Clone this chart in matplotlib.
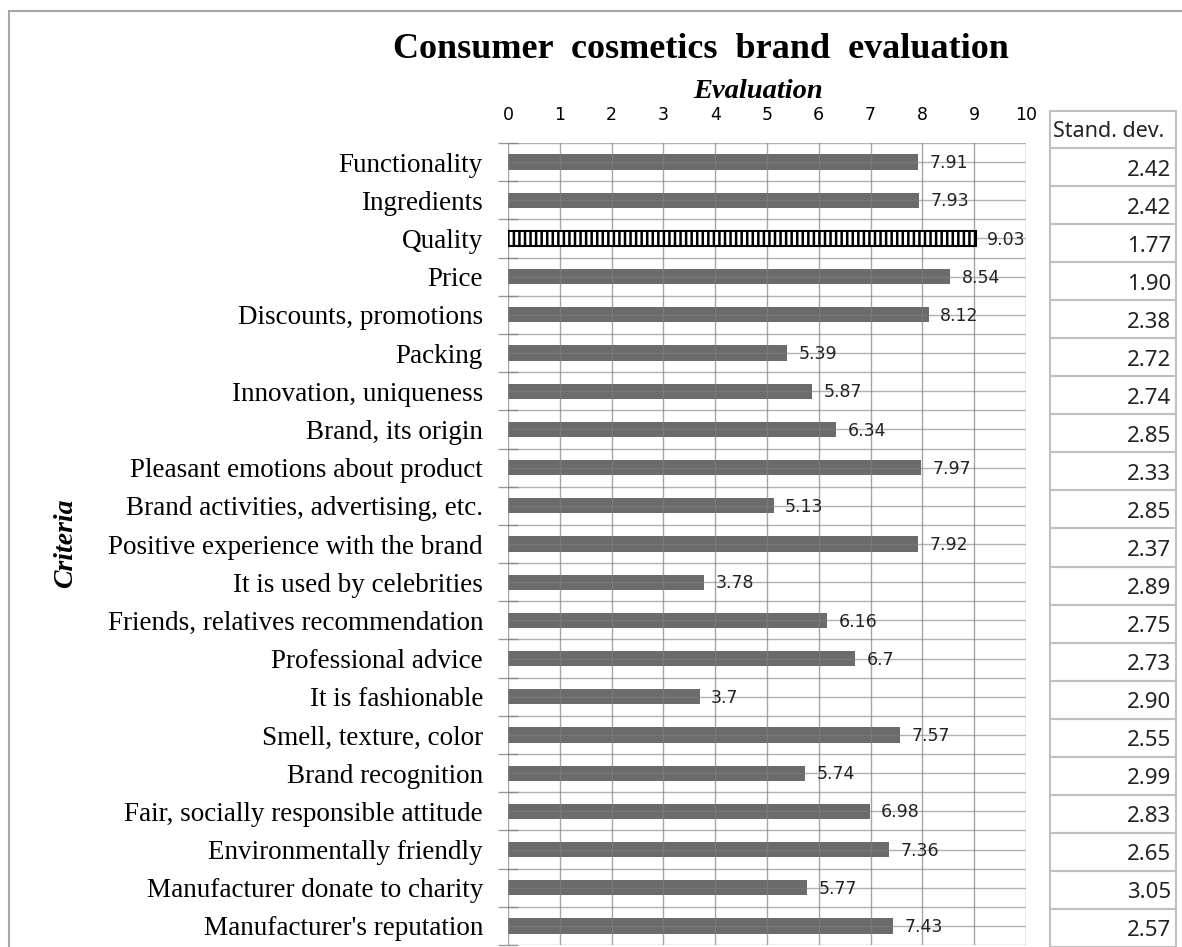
import numpy as np
import matplotlib
matplotlib.use("Agg")
import matplotlib.pyplot as plt
from matplotlib.patches import Rectangle

criteria = ["Functionality", "Ingredients", "Quality", "Price",
            "Discounts, promotions", "Packing", "Innovation, uniqueness",
            "Brand, its origin", "Pleasant emotions about product",
            "Brand activities, advertising, etc.",
            "Positive experience with the brand", "It is used by celebrities",
            "Friends, relatives recommendation", "Professional advice",
            "It is fashionable", "Smell, texture, color", "Brand recognition",
            "Fair, socially responsible attitude", "Environmentally friendly",
            "Manufacturer donate to charity", "Manufacturer's reputation"]
evaluation = [7.91, 7.93, 9.03, 8.54, 8.12, 5.39, 5.87, 6.34, 7.97, 5.13, 7.92,
              3.78, 6.16, 6.7, 3.7, 7.57, 5.74, 6.98, 7.36, 5.77, 7.43]
eval_text = ["7.91", "7.93", "9.03", "8.54", "8.12", "5.39", "5.87", "6.34",
             "7.97", "5.13", "7.92", "3.78", "6.16", "6.7", "3.7", "7.57",
             "5.74", "6.98", "7.36", "5.77", "7.43"]
std_dev = ["2.42", "2.42", "1.77", "1.90", "2.38", "2.72", "2.74", "2.85",
           "2.33", "2.85", "2.37", "2.89", "2.75", "2.73", "2.90", "2.55",
           "2.99", "2.83", "2.65", "3.05", "2.57"]
highlight = "Quality"
xticks = list(range(0, 11))

W, H = 1182, 947
plt.rcParams["hatch.linewidth"] = 1.8
fig = plt.figure(figsize=(W / 100, H / 100), dpi=100)

def fx(px):
    return px / W

def fy(py):
    return 1 - py / H

# outer frame
fig.patches.append(Rectangle((fx(9), -0.1), 1.2, fy(11) + 0.1, transform=fig.transFigure,
                             fill=False, edgecolor="#a6a6a6", lw=1.5))

n = len(criteria)
ax = fig.add_axes([fx(508), fy(945), fx(1026) - fx(508), fy(143) - fy(945)])
y = np.arange(n)
colors = ["white" if c == highlight else "#6b6b6b" for c in criteria]
bars = ax.barh(y, evaluation, height=0.4, color=colors, zorder=1)
for b, c in zip(bars, criteria):
    if c == highlight:
        b.set_hatch("|||")
        b.set_edgecolor("black")
        b.set_linewidth(1.5)
        b.set_zorder(3)

for yi, v, t in zip(y, evaluation, eval_text):
    ax.text(v + 0.22, yi + 0.03, t, va="center", ha="left", fontsize=12.5,
            family="DejaVu Sans", color="#222222", zorder=4)

ax.set_xlim(0, 10)
ax.set_ylim(n - 0.5, -0.5)
ax.set_xticks(xticks)
ax.xaxis.tick_top()
ax.tick_params(axis="x", length=0, pad=14, labelsize=12.5)
for lab in ax.get_xticklabels():
    lab.set_family("DejaVu Sans")

ax.set_yticks(y)
ax.set_yticklabels(criteria, family="Liberation Serif", fontsize=19.5)
ax.tick_params(axis="y", which="major", length=0, pad=18)
ax.set_yticks(np.arange(n + 1) - 0.5, minor=True)
ax.tick_params(axis="y", which="minor", length=14, direction="inout",
               color="#999999", width=1)

# grid lines at every half category and every unit
for v in xticks:
    ax.axvline(v, color="#7f7f7f", lw=1, alpha=0.7, zorder=2)
for h in np.arange(-0.5, n, 0.5):
    ax.axhline(h, color="#7f7f7f", lw=1, alpha=0.6, zorder=2)
for s in ax.spines.values():
    s.set_visible(False)

fig.text(fx(701), fy(50), "Consumer  cosmetics  brand  evaluation", ha="center",
         va="center", family="Liberation Serif", weight="bold", fontsize=26)
fig.text(fx(758), fy(92), "Evaluation", ha="center", va="center",
         family="Liberation Serif", weight="bold", style="italic", fontsize=20.5)
fig.text(fx(66), fy(543), "Criteria", ha="center", va="center", rotation=90,
         family="Liberation Serif", weight="bold", style="italic", fontsize=20)

# standard deviation column
tx0, tx1 = 1050, 1176
row_h = (947 - 148) / n
tab = fig.add_axes([0, 0, 1, 1], facecolor="none")
tab.set_xlim(0, W)
tab.set_ylim(H, 0)
tab.axis("off")
tab.add_patch(Rectangle((tx0, 111), tx1 - tx0, 148 - 111, fill=False,
                        edgecolor="#c0c0c0", lw=1.5))
tab.text(tx0 + 3, 131, "Stand. dev.", ha="left", va="center",
         family="Noto Sans", fontsize=15.5, color="#222222")
for i, s in enumerate(std_dev):
    top = 148 + i * row_h
    tab.add_patch(Rectangle((tx0, top), tx1 - tx0, row_h, fill=False,
                            edgecolor="#c0c0c0", lw=1.5))
    tab.text(tx1 - 5, top + row_h / 2 + 3, s, ha="right", va="center",
             family="Noto Sans", fontsize=16, color="#222222")

fig.savefig("out.png", dpi=100)
